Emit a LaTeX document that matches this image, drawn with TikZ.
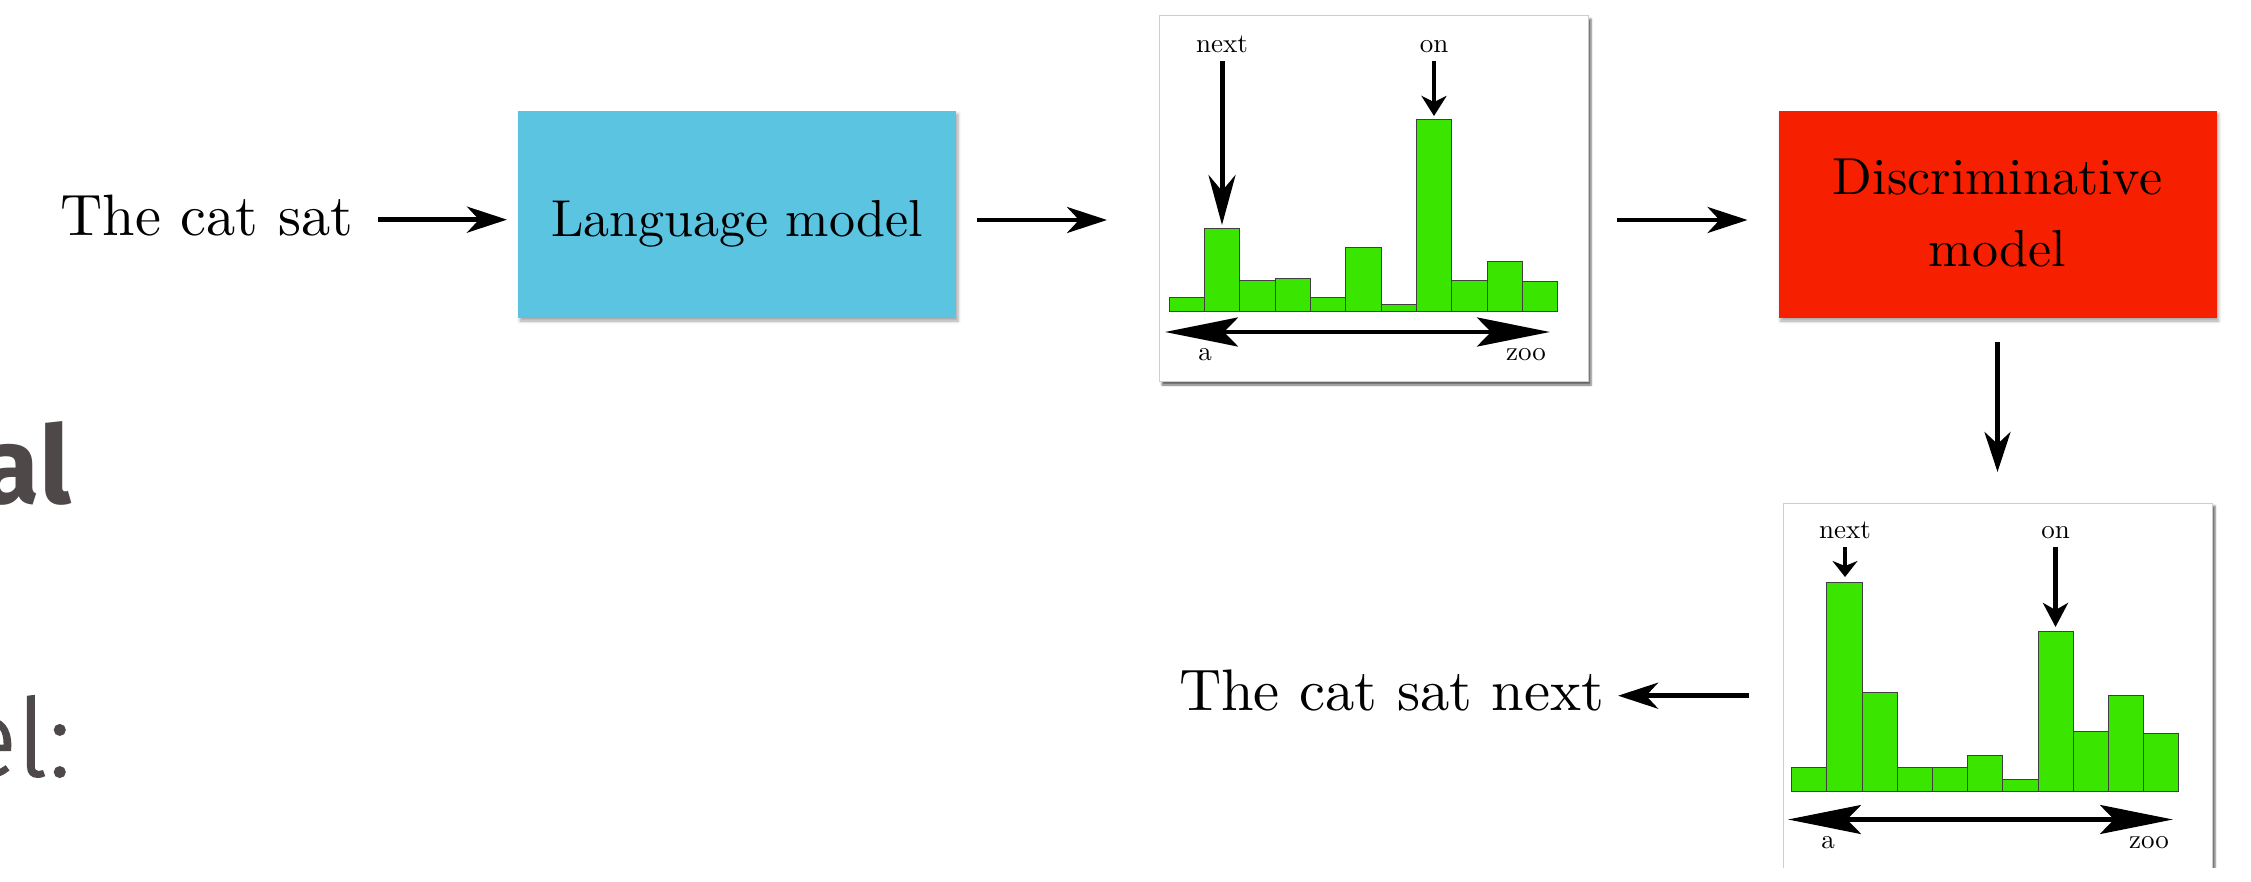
\documentclass[tikz,border=0pt]{standalone}
\usepackage{fontspec}
\usetikzlibrary{arrows.meta,shadows.blur}
\newfontfamily\slidefont{Fira Sans}
\newfontfamily\slidelight[FakeBold=1.5]{Fira Sans Light}

\definecolor{lmblue}{RGB}{90,196,225}
\definecolor{discred}{RGB}{246,32,0}
\definecolor{bargreen}{RGB}{58,229,0}
\definecolor{slidegray}{RGB}{78,72,72}
\definecolor{framegray}{RGB}{205,205,205}

% 10pt Latin Modern text, scaled as a whole
\newcommand\sized[2]{\scalebox{#1}{\fontsize{10}{12}\selectfont #2}}

\tikzset{
  lbl/.style={inner sep=0pt, outer sep=0pt},
  flow/.style={line width=4.5pt, -{Stealth[length=40pt,width=26pt,inset=12pt]}},
  modelbox/.style={rectangle, inner sep=0pt, outer sep=0pt,
    minimum width=438pt, minimum height=207pt,
    blur shadow={shadow xshift=2pt, shadow yshift=-3pt,
      shadow blur radius=3pt, shadow opacity=35}},
  histframe/.style={rectangle, draw=framegray, line width=1pt, fill=white,
    inner sep=0pt, outer sep=0pt, minimum width=429pt,
    blur shadow={shadow xshift=3pt, shadow yshift=-3pt,
      shadow blur radius=2pt, shadow opacity=60}},
  histbar/.style={fill=bargreen, draw=black!75, line width=0.9pt},
  vocabspan/.style={line width=4.2pt,
    {Stealth[length=73pt,width=29pt,inset=14pt]}-{Stealth[length=73pt,width=29pt,inset=14pt]}},
  slidetext/.style={lbl, text=slidegray},
}

\begin{document}
\begin{tikzpicture}[x=1pt, y=-1pt]
\useasboundingbox (0,0) rectangle (2251,882);

% fragments of the slide text at the left edge
\node[slidetext, anchor=base east,
      font=\slidefont\bfseries\fontsize{108}{120}\selectfont] (titlefrag) at (71,503) {al};
\node[slidetext, anchor=base east,
      font=\slidelight\fontsize{108}{120}\selectfont] (bodyfrag) at (71,776) {el:};

% input text and the language model
\node[lbl, anchor=base west] (prompt) at (60.7,236) {\sized{5.84}{The cat sat}};
\node[modelbox, fill=lmblue, text height=44.4pt, text depth=0pt] (lm) at (737,214.5)
  {\sized{5.2}{Language model}};

% first distribution over the vocabulary
\node[histframe, minimum height=366pt] (h1) at (1373.5,199) {};
\foreach \t [count=\i from 0] in {297.7,228,280,278.7,297.7,247,304,119,280,261,281}
  \draw[histbar] ({1169.3+\i*35.3},311) rectangle ({1169.3+(\i+1)*35.3},\t);
\node[lbl, anchor=base] (h1next) at (1222,52.3) {\sized{2.7}{next}};
\node[lbl, anchor=base] (h1on) at (1434,52.3) {\sized{2.7}{on}};
\coordinate (h1nexttip) at (1222,225);
\coordinate (h1ontip) at (1434,116);
\draw[line width=5pt, -{Stealth[length=50pt,width=27pt,inset=16pt]}, shorten <=8.7pt]
  (h1next.south) -- (h1nexttip);
\draw[line width=4.7pt, -{Stealth[length=20pt,width=25pt,inset=6pt]}, shorten <=8.7pt]
  (h1on.south) -- (h1ontip);
\coordinate (h1left) at (1165,332);
\coordinate (h1right) at (1550,332);
\draw[vocabspan] (h1left) -- (h1right);
\node[lbl, anchor=base] (h1a) at (1205,361) {\sized{2.7}{a}};
\node[lbl, anchor=base] (h1zoo) at (1526,361) {\sized{2.7}{zoo}};

% discriminative model
\node[modelbox, fill=discred, text height=80.1pt, text depth=46.3pt] (disc) at (1997.5,214.5)
  {\sized{5.2}{\begin{tabular}{@{}c@{}}Discriminative\\[1.8pt]model\end{tabular}}};

% second distribution, cut off by the lower edge
\begin{scope}
  \clip (0,0) rectangle (2251,867);
  \node[histframe, minimum height=397pt] (h2) at (1997.5,701.5) {};
\end{scope}
\foreach \t [count=\i from 0] in {767,582,692.7,767,767,755,779.3,631,731,695.7,733.7}
  \draw[histbar] ({1791.7+\i*35.2},791.7) rectangle ({1791.7+(\i+1)*35.2},\t);
\node[lbl, anchor=base] (h2next) at (1845,538) {\sized{2.7}{next}};
\node[lbl, anchor=base] (h2on) at (2055.5,538) {\sized{2.7}{on}};
\coordinate (h2nexttip) at (1845,577);
\coordinate (h2ontip) at (2055.5,627);
\draw[line width=4.5pt, -{Stealth[length=16pt,width=25pt,inset=5pt]}, shorten <=9pt]
  (h2next.south) -- (h2nexttip);
\draw[line width=4.5pt, -{Stealth[length=24pt,width=25pt,inset=7pt]}, shorten <=9pt]
  (h2on.south) -- (h2ontip);
\coordinate (h2left) at (1788,819.5);
\coordinate (h2right) at (2173,819.5);
\draw[vocabspan] (h2left) -- (h2right);
\node[lbl, anchor=base] (h2a) at (1828,848.3) {\sized{2.7}{a}};
\node[lbl, anchor=base] (h2zoo) at (2149,848.3) {\sized{2.7}{zoo}};

% output text
\node[lbl, anchor=base west] (output) at (1179,710) {\sized{5.86}{The cat sat next}};

% connectors
\draw[flow, shorten <=25pt, shorten >=11pt]
  ([yshift=-3.6pt]prompt.east) -- ([yshift=-3.6pt]prompt.east -| lm.west);
\draw[flow, shorten <=21pt, shorten >=52pt]
  ([yshift=-5.5pt]lm.east) -- ([yshift=-5.5pt]lm.east -| h1.west);
\draw[flow, shorten <=29pt, shorten >=31pt]
  ([yshift=-5.5pt]h1.east |- lm.east) -- ([yshift=-5.5pt]disc.west);
\draw[flow, shorten <=24pt, shorten >=31pt] (disc.south) -- (disc.south |- h2.north);
\draw[flow, shorten <=34pt, shorten >=14pt]
  ([yshift=5.8pt]h2.west) -- ([yshift=5.8pt]h2.west -| output.east);
\end{tikzpicture}
\end{document}
